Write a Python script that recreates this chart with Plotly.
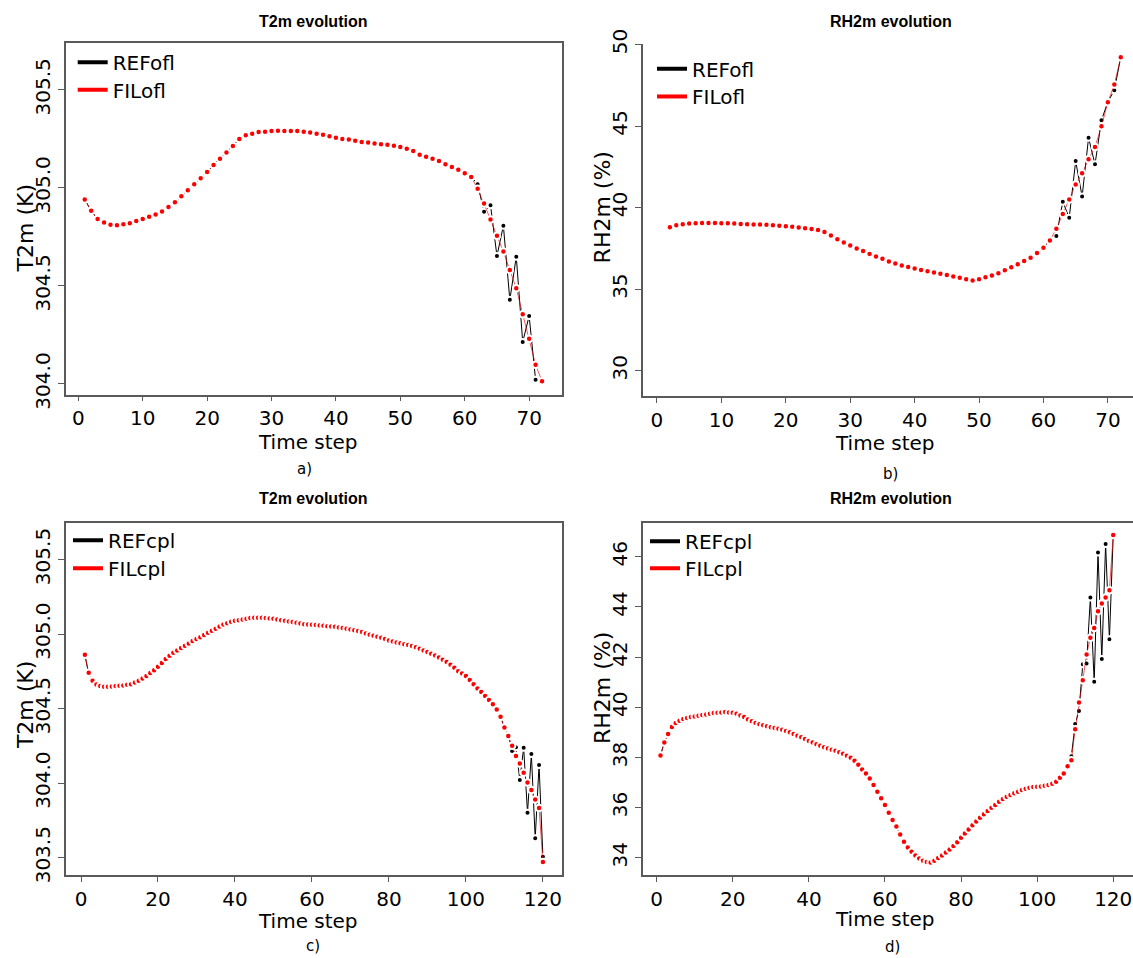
import plotly.graph_objects as go

W, H = 1133, 958          # reference picture size
PAGE_H = 973              # page height of the figure

# The picture is taken from the page with a small vertical offset and squeeze:
# picture_y ~= PIC_TOP + PIC_SCALE * page_y (horizontal is 1:1).
PIC_TOP, PIC_SCALE = 15.5, 0.9687

# ---------------- data ----------------
steps_ofl = list(range(1, 73))
t2m_ref_ofl = [304.941, 304.883, 304.841, 304.824, 304.812, 304.810, 304.814, 304.820, 304.831, 304.841,
               304.853, 304.864, 304.880, 304.902, 304.927, 304.958, 304.988, 305.019, 305.049, 305.081,
               305.117, 305.149, 305.181, 305.214, 305.249, 305.268, 305.276, 305.285, 305.286, 305.290,
               305.292, 305.290, 305.290, 305.290, 305.286, 305.283, 305.276, 305.271, 305.263, 305.256,
               305.249, 305.247, 305.241, 305.234, 305.231, 305.227, 305.222, 305.220, 305.215, 305.208,
               305.200, 305.188, 305.169, 305.159, 305.149, 305.137, 305.120, 305.107, 305.092, 305.075,
               305.056, 305.019, 304.878, 304.912, 304.653, 304.807, 304.429, 304.649, 304.214, 304.347,
               304.022, 304.014]
t2m_fil_ofl = [304.941, 304.883, 304.841, 304.824, 304.812, 304.810, 304.814, 304.820, 304.831, 304.841,
               304.853, 304.864, 304.880, 304.902, 304.927, 304.958, 304.988, 305.019, 305.049, 305.081,
               305.117, 305.149, 305.181, 305.214, 305.249, 305.268, 305.276, 305.285, 305.286, 305.290,
               305.292, 305.290, 305.290, 305.290, 305.286, 305.283, 305.276, 305.271, 305.263, 305.256,
               305.249, 305.247, 305.241, 305.234, 305.231, 305.227, 305.222, 305.220, 305.215, 305.208,
               305.200, 305.188, 305.169, 305.159, 305.149, 305.137, 305.120, 305.107, 305.092, 305.075,
               305.056, 304.995, 304.920, 304.839, 304.756, 304.675, 304.581, 304.488, 304.356, 304.231,
               304.098, 304.014]

steps_rh_ofl = list(range(2, 73))
rh2m_ref_ofl = [38.80, 38.92, 38.98, 39.02, 39.04, 39.06, 39.06, 39.06, 39.04,
                39.04, 39.02, 39.00, 38.98, 38.96, 38.96, 38.94, 38.92, 38.88, 38.86,
                38.82, 38.78, 38.73, 38.69, 38.63, 38.51, 38.29, 38.06, 37.86, 37.67,
                37.49, 37.33, 37.16, 37.00, 36.86, 36.69, 36.57, 36.45, 36.35, 36.27,
                36.18, 36.10, 36.02, 35.94, 35.86, 35.78, 35.69, 35.61, 35.53, 35.61,
                35.73, 35.84, 35.98, 36.15, 36.34, 36.52, 36.72, 36.93, 37.22, 37.54,
                37.98, 38.25, 40.36, 39.38, 42.85, 40.68, 44.28, 42.65, 45.36, 46.48,
                47.20, 49.22]
rh2m_fil_ofl = [38.80, 38.92, 38.98, 39.02, 39.04, 39.06, 39.06, 39.06, 39.04,
                39.04, 39.02, 39.00, 38.98, 38.96, 38.96, 38.94, 38.92, 38.88, 38.86,
                38.82, 38.78, 38.73, 38.69, 38.63, 38.51, 38.29, 38.06, 37.86, 37.67,
                37.49, 37.33, 37.16, 37.00, 36.86, 36.69, 36.57, 36.45, 36.35, 36.27,
                36.18, 36.10, 36.02, 35.94, 35.86, 35.78, 35.69, 35.61, 35.53, 35.61,
                35.73, 35.84, 35.98, 36.15, 36.34, 36.52, 36.72, 36.93, 37.22, 37.54,
                37.98, 38.70, 39.60, 40.49, 41.42, 42.10, 42.97, 43.72, 44.98, 46.46,
                47.54, 49.22]

steps_cpl = list(range(1, 121))
t2m_ref_cpl = [304.861, 304.731, 304.687, 304.662, 304.651, 304.646, 304.646, 304.649, 304.651, 304.653,
               304.655, 304.660, 304.664, 304.675, 304.687, 304.702, 304.718, 304.738, 304.758, 304.780,
               304.805, 304.832, 304.854, 304.874, 304.890, 304.906, 304.921, 304.937, 304.953, 304.966,
               304.979, 304.993, 305.008, 305.022, 305.035, 305.051, 305.064, 305.073, 305.082, 305.089,
               305.093, 305.098, 305.102, 305.107, 305.109, 305.109, 305.109, 305.107, 305.104, 305.102,
               305.098, 305.093, 305.089, 305.084, 305.080, 305.075, 305.071, 305.066, 305.064, 305.062,
               305.060, 305.058, 305.055, 305.053, 305.051, 305.049, 305.044, 305.040, 305.035, 305.031,
               305.026, 305.020, 305.013, 305.004, 304.995, 304.988, 304.982, 304.975, 304.966, 304.957,
               304.950, 304.944, 304.939, 304.932, 304.926, 304.919, 304.912, 304.901, 304.890, 304.879,
               304.868, 304.856, 304.843, 304.827, 304.812, 304.794, 304.774, 304.751, 304.736, 304.718,
               304.691, 304.664, 304.635, 304.611, 304.584, 304.557, 304.530, 304.494, 304.445, 304.374,
               304.329, 304.215, 304.240, 304.021, 304.237, 303.802, 304.195, 303.630, 304.121, 303.507]
t2m_fil_cpl = [304.861, 304.740, 304.687, 304.662, 304.651, 304.646, 304.646, 304.649, 304.651, 304.653,
               304.655, 304.660, 304.664, 304.675, 304.687, 304.702, 304.718, 304.738, 304.758, 304.780,
               304.805, 304.832, 304.854, 304.874, 304.890, 304.906, 304.921, 304.937, 304.953, 304.966,
               304.979, 304.993, 305.008, 305.022, 305.035, 305.051, 305.064, 305.073, 305.082, 305.089,
               305.093, 305.098, 305.102, 305.107, 305.109, 305.109, 305.109, 305.107, 305.104, 305.102,
               305.098, 305.093, 305.089, 305.084, 305.080, 305.075, 305.071, 305.066, 305.064, 305.062,
               305.060, 305.058, 305.055, 305.053, 305.051, 305.049, 305.044, 305.040, 305.035, 305.031,
               305.026, 305.020, 305.013, 305.004, 304.995, 304.988, 304.982, 304.975, 304.966, 304.957,
               304.950, 304.944, 304.939, 304.932, 304.926, 304.919, 304.912, 304.901, 304.890, 304.879,
               304.868, 304.856, 304.843, 304.827, 304.812, 304.794, 304.774, 304.751, 304.736, 304.718,
               304.691, 304.664, 304.635, 304.611, 304.584, 304.557, 304.530, 304.494, 304.445, 304.374,
               304.316, 304.251, 304.182, 304.132, 304.070, 304.005, 303.954, 303.891, 303.833, 303.471]

rh2m_ref_cpl = [38.08, 38.60, 38.93, 39.21, 39.37, 39.46, 39.53, 39.57, 39.61, 39.63,
                39.66, 39.69, 39.71, 39.74, 39.77, 39.78, 39.79, 39.81, 39.79, 39.78,
                39.74, 39.67, 39.61, 39.51, 39.44, 39.37, 39.32, 39.28, 39.24, 39.20,
                39.17, 39.14, 39.10, 39.05, 39.00, 38.93, 38.86, 38.80, 38.73, 38.66,
                38.60, 38.53, 38.47, 38.41, 38.36, 38.31, 38.27, 38.21, 38.15, 38.07,
                37.99, 37.87, 37.71, 37.52, 37.36, 37.16, 36.90, 36.63, 36.37, 36.10,
                35.79, 35.50, 35.24, 34.93, 34.64, 34.41, 34.24, 34.09, 33.97, 33.88,
                33.83, 33.81, 33.88, 33.99, 34.09, 34.21, 34.33, 34.47, 34.62, 34.80,
                34.97, 35.13, 35.29, 35.44, 35.59, 35.73, 35.86, 35.99, 36.10, 36.23,
                36.34, 36.43, 36.50, 36.57, 36.63, 36.70, 36.75, 36.79, 36.82, 36.83,
                36.84, 36.87, 36.90, 36.95, 37.03, 37.19, 37.36, 37.65, 38.05, 39.33,
                39.85, 41.72, 41.75, 44.38, 41.02, 46.17, 41.93, 46.51, 42.71, 46.87]
rh2m_fil_cpl = [38.08, 38.60, 38.93, 39.21, 39.37, 39.46, 39.53, 39.57, 39.61, 39.63,
                39.66, 39.69, 39.71, 39.74, 39.77, 39.78, 39.79, 39.81, 39.79, 39.78,
                39.74, 39.67, 39.61, 39.51, 39.44, 39.37, 39.32, 39.28, 39.24, 39.20,
                39.17, 39.14, 39.10, 39.05, 39.00, 38.93, 38.86, 38.80, 38.73, 38.66,
                38.60, 38.53, 38.47, 38.41, 38.36, 38.31, 38.27, 38.21, 38.15, 38.07,
                37.99, 37.87, 37.71, 37.52, 37.36, 37.16, 36.90, 36.63, 36.37, 36.10,
                35.79, 35.50, 35.24, 34.93, 34.64, 34.41, 34.24, 34.09, 33.97, 33.88,
                33.83, 33.81, 33.88, 33.99, 34.09, 34.21, 34.33, 34.47, 34.62, 34.80,
                34.97, 35.13, 35.29, 35.44, 35.59, 35.73, 35.86, 35.99, 36.10, 36.23,
                36.34, 36.43, 36.50, 36.57, 36.63, 36.70, 36.75, 36.79, 36.82, 36.83,
                36.84, 36.87, 36.90, 36.95, 37.03, 37.19, 37.36, 37.65, 37.89, 39.12,
                40.19, 41.08, 42.11, 42.77, 43.16, 43.83, 44.14, 44.38, 44.67, 46.87]

xticks_ofl = [0, 10, 20, 30, 40, 50, 60, 70]
xticks_cpl = [0, 20, 40, 60, 80, 100, 120]
yticks_t2m_ofl = [304.0, 304.5, 305.0, 305.5]
yticks_rh_ofl = [30, 35, 40, 45, 50]
yticks_t2m_cpl = [303.5, 304.0, 304.5, 305.0, 305.5]
yticks_rh_cpl = [34, 36, 38, 40, 42, 44, 46]

panel_titles = ["T2m evolution", "RH2m evolution", "T2m evolution", "RH2m evolution"]
y_titles = ["T2m (K)", "RH2m (%)", "T2m (K)", "RH2m (%)"]
x_title = "Time step"
panel_tags = ["a)", "b)", "c)", "d)"]
legend_names = [("REFofl", "FILofl"), ("REFofl", "FILofl"), ("REFcpl", "FILcpl"), ("REFcpl", "FILcpl")]


def px(x):
    return x / W


def py(y, lo=0.0, hi=PAGE_H):
    """picture y (pixels from top) -> paper fraction of the page"""
    page = (y - PIC_TOP) / PIC_SCALE
    page = min(max(page, lo), hi)
    return 1 - page / PAGE_H


FONT = "DejaVu Sans"
FRAME = "#5a5a5a"

panels = [
    dict(x=steps_ofl, ref=t2m_ref_ofl, fil=t2m_fil_ofl, dom_x=(66, 562), dom_y=(42.3, 394.3),
         xr=[-1.91, 75.1], yr=[303.946, 305.74], xt=xticks_ofl, yt=yticks_t2m_ofl, fmt=".1f",
         mirror=True, xmirror=True,
         title=(313, 18), ytitle=(25, 228), xtitle=(308, 442), tag=(304, 469),
         leg_x=72.7, leg_y=(61.7, 89.3)),
    dict(x=steps_rh_ofl, ref=rh2m_ref_ofl, fil=rh2m_fil_ofl, dom_x=(643, 1133), dom_y=(44, 396),
         xr=[-2.17, 73.9], yr=[28.43, 50.0], xt=xticks_ofl, yt=yticks_rh_ofl, fmt="d",
         mirror=False, xmirror=False,
         title=(891, 18), ytitle=(602, 207), xtitle=(885, 443), tag=(890, 474),
         leg_x=652, leg_y=(68.3, 96)),
    dict(x=steps_cpl, ref=t2m_ref_cpl, fil=t2m_fil_cpl, dom_x=(66, 562), dom_y=(522.3, 875),
         xr=[-3.9, 124.96], yr=[303.384, 305.748], xt=xticks_cpl, yt=yticks_t2m_cpl, fmt=".1f",
         mirror=True, xmirror=True,
         title=(313, 498), ytitle=(25, 705), xtitle=(308, 921), tag=(313, 946),
         leg_x=68, leg_y=(540, 568)),
    dict(x=steps_cpl, ref=rh2m_ref_cpl, fil=rh2m_fil_cpl, dom_x=(642.7, 1133), dom_y=(522.3, 875),
         xr=[-3.68, 125.2], yr=[33.31, 47.37], xt=xticks_cpl, yt=yticks_rh_cpl, fmt="d",
         mirror=False, xmirror=True,
         title=(891, 498), ytitle=(602, 688), xtitle=(885, 919), tag=(892, 947),
         leg_x=645, leg_y=(541, 568)),
]

fig = go.Figure()
annotations = []
layout = dict(width=W, height=PAGE_H, margin=dict(l=0, r=0, t=0, b=0, pad=0),
              paper_bgcolor="white", plot_bgcolor="white", showlegend=True)

for i, p in enumerate(panels):
    n = "" if i == 0 else str(i + 1)
    xa, ya = "x" + n, "y" + n
    lg_ref = "legend" if i == 0 else "legend%d" % (2 * i + 1)
    lg_fil = "legend%d" % (2 * i + 2)
    # white marker outlines leave small gaps around the points, like R's type="b"
    fig.add_trace(go.Scatter(x=p["x"], y=p["ref"], mode="lines+markers", xaxis=xa, yaxis=ya,
                             line=dict(color="black", width=1),
                             marker=dict(color="black", size=6, line=dict(color="white", width=2)),
                             showlegend=False, name=legend_names[i][0]))
    fig.add_trace(go.Scatter(x=p["x"], y=p["fil"], mode="lines+markers", xaxis=xa, yaxis=ya,
                             line=dict(color="rgba(230,0,0,0.8)", width=0.8),
                             marker=dict(color="red", size=6.5, line=dict(color="white", width=2)),
                             showlegend=False, name=legend_names[i][1]))
    # legend keys
    fig.add_trace(go.Scatter(x=[None], y=[None], mode="lines", xaxis=xa, yaxis=ya, legend=lg_ref,
                             line=dict(color="black", width=4), name=legend_names[i][0]))
    fig.add_trace(go.Scatter(x=[None], y=[None], mode="lines", xaxis=xa, yaxis=ya, legend=lg_fil,
                             line=dict(color="red", width=4), name=legend_names[i][1]))
    for lg, ly in ((lg_ref, p["leg_y"][0]), (lg_fil, p["leg_y"][1])):
        layout[lg] = dict(x=px(p["leg_x"]), y=py(ly), xanchor="left", yanchor="middle",
                          bgcolor="rgba(0,0,0,0)", font=dict(family=FONT, size=20, color="black"),
                          itemwidth=30, borderwidth=0)

    layout["xaxis" + n] = dict(domain=[px(p["dom_x"][0]), px(p["dom_x"][1])], anchor=ya,
                               range=p["xr"], tickmode="array", tickvals=p["xt"],
                               ticks="outside", ticklen=5, tickcolor=FRAME, tickwidth=1,
                               showline=True, linecolor=FRAME, linewidth=1.5, mirror=p["xmirror"],
                               showgrid=False, zeroline=False, ticklabeloverflow="allow",
                               tickfont=dict(family=FONT, size=20, color="black"))
    layout["yaxis" + n] = dict(domain=[py(p["dom_y"][1]), py(p["dom_y"][0])], anchor=xa,
                               range=p["yr"], tickmode="array", tickvals=p["yt"], tickformat=p["fmt"],
                               tickangle=-90,
                               ticks="outside", ticklen=6, tickcolor=FRAME, tickwidth=1,
                               showline=True, linecolor=FRAME, linewidth=1.5, mirror=p["mirror"],
                               showgrid=False, zeroline=False,
                               tickfont=dict(family=FONT, size=20, color="black"))

    annotations.append(dict(text="<b>%s</b>" % panel_titles[i], x=px(p["title"][0]),
                            y=py(p["title"][1], lo=6.0),
                            xref="paper", yref="paper", showarrow=False, xanchor="center", yanchor="middle",
                            font=dict(family="Liberation Sans", size=16, color="black")))
    annotations.append(dict(text=y_titles[i], x=px(p["ytitle"][0]), y=py(p["ytitle"][1]), textangle=-90,
                            xref="paper", yref="paper", showarrow=False, xanchor="center", yanchor="middle",
                            font=dict(family=FONT, size=22, color="black")))
    annotations.append(dict(text=x_title, x=px(p["xtitle"][0]), y=py(p["xtitle"][1]),
                            xref="paper", yref="paper", showarrow=False, xanchor="center", yanchor="middle",
                            font=dict(family=FONT, size=20, color="black")))
    annotations.append(dict(text=panel_tags[i], x=px(p["tag"][0]), y=py(p["tag"][1], hi=PAGE_H - 10),
                            xref="paper", yref="paper", showarrow=False, xanchor="center", yanchor="middle",
                            font=dict(family=FONT, size=15, color="black")))

layout["annotations"] = annotations
fig.update_layout(**layout)

# pin the figure to the page's top-left corner
pin_js = (
    "document.documentElement.style.margin='0';document.documentElement.style.padding='0';"
    "document.body.style.margin='0';document.body.style.padding='0';document.body.style.overflow='hidden';"
    "var gd=document.getElementById('{plot_id}');"
    "gd.style.position='absolute';gd.style.left='0px';gd.style.top='0px';"
)
fig.write_html("out.html", post_script=pin_js, config={"displayModeBar": False})
